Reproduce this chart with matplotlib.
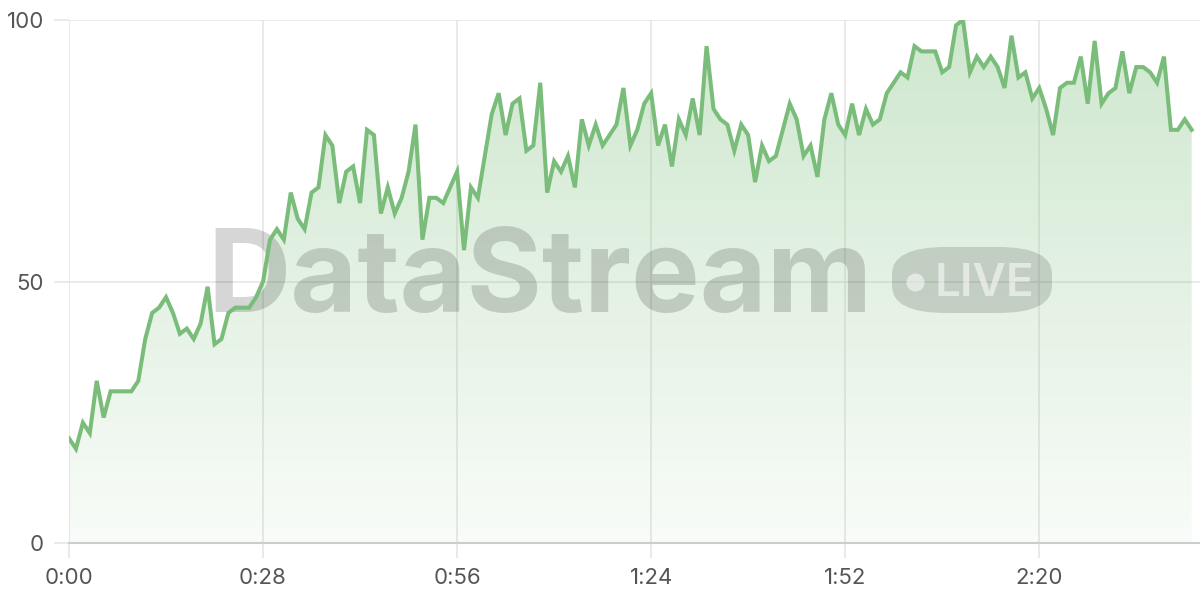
import matplotlib
matplotlib.use("Agg")
import matplotlib.pyplot as plt
import numpy as np
from matplotlib.colors import LinearSegmentedColormap
from matplotlib.patches import FancyBboxPatch

plt.rcParams['font.family'] = ['Inter', 'DejaVu Sans']

# one reading per second, 0:00 .. 2:42
seconds = list(range(163))
values = [
    20, 18, 23, 21, 31, 24, 29, 29, 29, 29, 31, 39, 44, 45, 47, 44, 40, 41, 39, 42,
    49, 38, 39, 44, 45, 45, 45, 47, 50, 58, 60, 58, 67, 62, 60, 67, 68, 78, 76, 65,
    71, 72, 65, 79, 78, 63, 68, 63, 66, 71, 80, 58, 66, 66, 65, 68, 71, 56, 68, 66,
    74, 82, 86, 78, 84, 85, 75, 76, 88, 67, 73, 71, 74, 68, 81, 76, 80, 76, 78, 80,
    87, 76, 79, 84, 86, 76, 80, 72, 81, 78, 85, 78, 95, 83, 81, 80, 75, 80, 78, 69,
    76, 73, 74, 79, 84, 81, 74, 76, 70, 81, 86, 80, 78, 84, 78, 83, 80, 81, 86, 88,
    90, 89, 95, 94, 94, 94, 90, 91, 99, 100, 90, 93, 91, 93, 91, 87, 97, 89, 90, 85,
    87, 83, 78, 87, 88, 88, 93, 84, 96, 84, 86, 87, 94, 86, 91, 91, 90, 88, 93, 79,
    79, 81, 79,
]
xticks = [0, 28, 56, 84, 112, 140]
xtick_labels = ['0:00', '0:28', '0:56', '1:24', '1:52', '2:20']
yticks = [0, 50, 100]

line_color = '#7abd7a'
grid_color = '#e4e4e4'
label_color = '#555555'

fig = plt.figure(figsize=(12, 6), dpi=100)
ax = fig.add_axes([69 / 1200, 57 / 600, 1131 / 1200, 523 / 600])

x = np.array(seconds)
y = np.array(values)

# gradient area under the line
cmap = LinearSegmentedColormap.from_list(
    'fade', [(0.47, 0.74, 0.47, 0.05), (0.47, 0.74, 0.47, 0.36)])
grad = np.linspace(0, 1, 256).reshape(-1, 1)
im = ax.imshow(grad, cmap=cmap, aspect='auto', origin='lower',
               extent=[0, 163.2, 0, 100], zorder=1, interpolation='bilinear')
poly = ax.fill_between(x, y, 0, color='none', lw=0)
im.set_clip_path(poly.get_paths()[0], transform=ax.transData)

ax.plot(x, y, color=line_color, lw=2.9, solid_joinstyle='miter', zorder=4)

ax.set_xlim(0, 163.2)
ax.set_ylim(0, 100)
ax.set_xticks(xticks)
ax.set_xticklabels(xtick_labels)
ax.set_yticks(yticks)
ax.grid(True, color=grid_color, lw=1.1, zorder=0)
ax.set_axisbelow(True)
ax.tick_params(axis='both', length=11, width=1.1, color=grid_color,
               labelcolor=label_color, labelsize=16)
ax.tick_params(axis='x', pad=7)
ax.tick_params(axis='y', pad=7)
for s in ['top', 'right', 'left']:
    ax.spines[s].set_visible(False)
ax.spines['bottom'].set_color('#cccccc')
ax.spines['bottom'].set_linewidth(1.5)

# watermark, above the fill but under the line
ft = fig.transFigure
ax.text(540 / 1200, 1 - 312 / 600, 'DataStream', transform=ft, ha='center',
        va='baseline', fontsize=83, fontweight='bold', color='black',
        alpha=0.16, zorder=2, clip_on=False)
pill = FancyBboxPatch((892 / 1200, 1 - 313 / 600), 160 / 1200, 66 / 600,
                      boxstyle='round,pad=0,rounding_size=0.045',
                      transform=ft, facecolor='black', alpha=0.14,
                      edgecolor='none', zorder=2, clip_on=False)
ax.add_patch(pill)
ax.plot([915 / 1200], [1 - 282 / 600], 'o', transform=ft, ms=13,
        color='white', alpha=0.55, mec='none', zorder=3, clip_on=False)
ax.text(984 / 1200, 1 - 296 / 600, 'LIVE', transform=ft, ha='center',
        va='baseline', fontsize=33, fontweight='semibold', color='white',
        alpha=0.55, zorder=3, clip_on=False)

fig.savefig('out.png', dpi=100)
